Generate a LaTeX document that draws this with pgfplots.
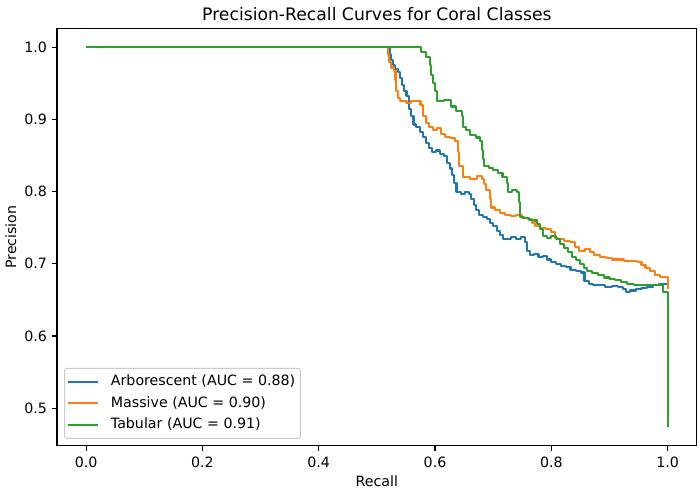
\documentclass[border=0pt]{standalone}
\usepackage{fontspec}
\setmainfont{DejaVu Sans}
\usepackage{pgfplots}
\pgfplotsset{compat=1.18}
\definecolor{mplblue}{HTML}{1F77B4}
\definecolor{mplorange}{HTML}{FF7F0E}
\definecolor{mplgreen}{HTML}{2CA02C}
\newcommand{\tfont}{\fontsize{14.2}{16}\selectfont}
\begin{document}
\begin{tikzpicture}
\begin{axis}[
  name=ax,
  width=639.4pt, height=417.4pt, scale only axis,
  xmin=-0.05, xmax=1.05, ymin=0.4477, ymax=1.0263,
  axis line style={line width=1.1pt},
  tick style={line width=1.1pt, black},
  tick align=outside, major tick length=4.9pt,
  xtick={0,0.2,0.4,0.6,0.8,1.0},
  ytick={0.5,0.6,0.7,0.8,0.9,1.0},
  xtick pos=bottom, ytick pos=left,
  /pgf/number format/assume math mode=true,
  /pgf/number format/.cd, fixed, fixed zerofill, precision=1, /pgfplots/.cd,
  ticklabel style={font=\tfont},
  xticklabel style={anchor=north, inner sep=0pt, yshift=-5.5pt},
  yticklabel style={anchor=east, inner sep=0pt, xshift=-5pt},
  xlabel={Recall}, ylabel={Precision},
  every axis x label/.style={at={(axis description cs:0.5,0)}, anchor=base, yshift=-40.3pt, font=\tfont},
  every axis y label/.style={at={(axis description cs:0,0.5)}, anchor=base, rotate=90, yshift=41pt, font=\tfont},
  title={Precision-Recall Curves for Coral Classes},
  every axis title/.style={at={(axis description cs:0.5,1)}, anchor=base, yshift=8.3pt, font=\fontsize{17.2}{19}\selectfont},
  legend cell align=left,
  legend style={at={(axis description cs:0,0)}, anchor=south west, xshift=7pt, yshift=7pt,
    draw=black!20, fill=white, fill opacity=0.8, text opacity=1, rounded corners=2.5pt, line width=1pt,
    font=\tfont, inner xsep=2pt, inner ysep=2.5pt,
    nodes={inner xsep=3.3pt, inner ysep=4pt, text height=10.5pt, text depth=3pt, font=\tfont},
    row sep=0.2pt, /tikz/every odd column/.append style={column sep=9pt}},
  legend image code/.code={\draw[#1, line width=2.08pt] (0pt,0pt) -- (30pt,0pt);},
  every axis plot/.append style={line width=2.08pt, line join=round, const plot},
]
\addplot[mplblue] coordinates {
(0,1.0) (0.522,0.990) (0.524,0.982) (0.527,0.975) (0.531,0.970) (0.536,0.966)
(0.540,0.958) (0.544,0.948) (0.547,0.940) (0.551,0.932) (0.555,0.915) (0.559,0.905)
(0.563,0.893) (0.568,0.889) (0.574,0.883) (0.579,0.876) (0.585,0.868) (0.590,0.860)
(0.595,0.855) (0.602,0.857) (0.609,0.852) (0.616,0.850) (0.620,0.840) (0.625,0.832)
(0.629,0.823) (0.633,0.812) (0.637,0.800) (0.645,0.797) (0.652,0.800) (0.658,0.797)
(0.662,0.790) (0.667,0.782) (0.671,0.775) (0.676,0.768) (0.683,0.765) (0.690,0.762)
(0.695,0.756) (0.700,0.752) (0.706,0.746) (0.712,0.740) (0.717,0.734) (0.724,0.735)
(0.731,0.737) (0.740,0.735) (0.748,0.737) (0.754,0.730) (0.758,0.718) (0.763,0.712)
(0.770,0.714) (0.778,0.710) (0.786,0.711) (0.793,0.706) (0.800,0.702) (0.808,0.700)
(0.816,0.697) (0.825,0.695) (0.833,0.692) (0.843,0.690) (0.851,0.688) (0.857,0.676)
(0.864,0.672) (0.872,0.670) (0.882,0.670) (0.892,0.668) (0.905,0.669) (0.915,0.668)
(0.924,0.665) (0.928,0.661) (0.936,0.663) (0.945,0.665) (0.955,0.667) (0.965,0.668)
(0.975,0.670) (0.985,0.672) (0.993,0.672) (1.0,0.672)
};
\addlegendentry{Arborescent (AUC = 0.88)}
\addplot[mplorange] coordinates {
(0,1.0) (0.519,0.990) (0.521,0.980) (0.524,0.972) (0.529,0.967) (0.532,0.955)
(0.533,0.940) (0.536,0.930) (0.540,0.925) (0.551,0.923) (0.558,0.926) (0.575,0.920)
(0.580,0.905) (0.585,0.895) (0.590,0.890) (0.597,0.885) (0.604,0.888) (0.610,0.880)
(0.617,0.876) (0.625,0.874) (0.635,0.870) (0.640,0.855) (0.642,0.835) (0.648,0.820)
(0.660,0.818) (0.672,0.822) (0.680,0.818) (0.684,0.810) (0.688,0.802) (0.694,0.790)
(0.697,0.778) (0.703,0.774) (0.712,0.771) (0.720,0.768) (0.730,0.766) (0.740,0.767)
(0.750,0.764) (0.760,0.762) (0.766,0.757) (0.772,0.752) (0.780,0.750) (0.790,0.748)
(0.800,0.744) (0.806,0.736) (0.812,0.734) (0.822,0.732) (0.832,0.730) (0.840,0.723)
(0.848,0.718) (0.858,0.720) (0.866,0.716) (0.874,0.712) (0.884,0.710) (0.894,0.708)
(0.904,0.706) (0.915,0.706) (0.925,0.704) (0.938,0.704) (0.948,0.702) (0.955,0.698)
(0.962,0.694) (0.970,0.690) (0.978,0.685) (0.987,0.682) (1.0,0.682) (1.0,0.665)
};
\addlegendentry{Massive (AUC = 0.90)}
\addplot[mplgreen] coordinates {
(0,1.0) (0.576,0.993) (0.585,0.987) (0.592,0.975) (0.593,0.962) (0.596,0.950)
(0.600,0.940) (0.603,0.925) (0.615,0.927) (0.627,0.918) (0.636,0.912) (0.646,0.905)
(0.648,0.890) (0.654,0.885) (0.660,0.879) (0.670,0.875) (0.678,0.870) (0.680,0.858)
(0.682,0.845) (0.685,0.835) (0.693,0.833) (0.700,0.830) (0.708,0.826) (0.716,0.820)
(0.723,0.812) (0.726,0.800) (0.733,0.802) (0.741,0.800) (0.744,0.785) (0.746,0.765)
(0.753,0.764) (0.762,0.761) (0.770,0.760) (0.775,0.755) (0.780,0.748) (0.786,0.738)
(0.793,0.736) (0.800,0.738) (0.808,0.734) (0.815,0.728) (0.822,0.722) (0.829,0.716)
(0.836,0.710) (0.842,0.705) (0.850,0.700) (0.856,0.694) (0.862,0.690) (0.870,0.687)
(0.880,0.684) (0.890,0.681) (0.900,0.679) (0.910,0.677) (0.920,0.675) (0.930,0.672)
(0.942,0.671) (0.955,0.670) (0.970,0.670) (0.992,0.661) (1.0,0.661) (1.0,0.474)
};
\addlegendentry{Tabular (AUC = 0.91)}
\end{axis}
\pgfresetboundingbox
\path[use as bounding box] ([xshift=-57pt,yshift=-45.3pt]ax.south west) rectangle ([xshift=3.3pt,yshift=28.3pt]ax.north east);
\end{tikzpicture}
\end{document}
